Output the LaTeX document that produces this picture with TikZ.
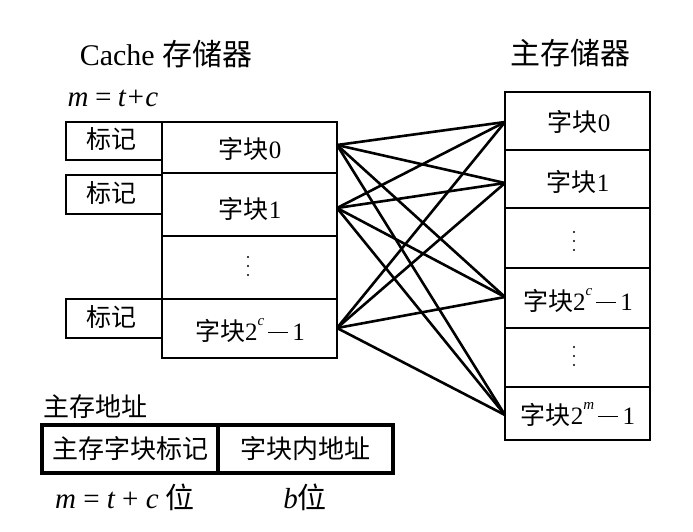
\documentclass[tikz,border=0pt]{standalone}
\usepackage{fontspec}
\setmainfont{Liberation Serif}
\newfontfamily\cjk{Noto Sans CJK SC}
\newcommand{\supit}[1]{\raisebox{0.6em}{\fontsize{15}{15}\selectfont\itshape #1}}
\begin{document}
\begin{tikzpicture}[x=1pt,y=-1pt,
  conn/.style={line width=2.6pt},
  txt/.style={font=\fontsize{25}{28}\selectfont,inner sep=0pt},
  ttl/.style={font=\fontsize{30}{34}\selectfont,inner sep=0pt},
  vdot/.style={fill,circle,inner sep=0pt,minimum size=2.4pt}]
\useasboundingbox (0,0) rectangle (693,531);
% cache block column
\def\cl{162}\def\cr{337}
\foreach \t/\b in {122/173,173/236,236/299,299/358}{
  \draw[line width=2.2pt] (\cl,\t) rectangle (\cr,\b);
}
\node[txt] (tc0) at (250,149) {{\cjk 字块}0};
\node[txt] (tc1) at (250,209) {{\cjk 字块}1};
\foreach \y in {257,266,275}{\node[vdot] at (248,\y) {};}
\node[txt] (tcn) at (250,330) {{\cjk 字块}2\supit{c}{\fontsize{25}{28}\selectfont$\,$\rule[0.3em]{0.8em}{1pt}$\,$}1};
% tag boxes
\foreach \n/\t/\b in {g0/122/160,g1/175/214,gn/299/338}{
  \draw[line width=2.2pt] (66,\t) rectangle (\cl,\b);
  \node[txt] (\n) at (111,{(\t+\b)/2-2}) {\cjk 标记};
}
% main memory column
\def\ml{505}\def\mr{650}
\foreach \t/\b in {92/150,150/208,208/268,268/328,328/387,387/440}{
  \draw[line width=2.2pt] (\ml,\t) rectangle (\mr,\b);
}
\node[txt] (m0) at (579,122) {{\cjk 字块}0};
\node[txt] (m1) at (578,182) {{\cjk 字块}1};
\foreach \y in {232,241,250}{\node[vdot] at (574,\y) {};}
\node[txt] (mc) at (578,300) {{\cjk 字块}2\supit{c}{$\,$\rule[0.3em]{0.8em}{1pt}$\,$}1};
\foreach \y in {347,356,365}{\node[vdot] at (574,\y) {};}
\node[txt] (mm) at (578,414) {{\cjk 字块}2\supit{m}{$\,$\rule[0.3em]{0.8em}{1pt}$\,$}1};
% connection points
\coordinate (a0) at (\cr,145);
\coordinate (a1) at (\cr,208);
\coordinate (an) at (\cr,328);
\coordinate (b0) at (\ml,122);
\coordinate (b1) at (\ml,183);
\coordinate (bc) at (\ml,297);
\coordinate (bm) at (\ml,415);
\foreach \a in {a0,a1,an}{
  \foreach \b in {b0,b1,bc,bm}{
    \draw[conn] (\a) -- (\b);
  }
}
% titles
\node[ttl] (t1) at (166,54) {Cache {\cjk 存储器}};
\node[ttl] (t2) at (570,53) {\cjk 主存储器};
\node[font=\fontsize{29}{32}\selectfont,inner sep=0pt] (eq) at (113,98) {\itshape m\,=\,t+c};
% address
\node[txt,font=\fontsize{26}{30}\selectfont] (addr) at (95,407) {\cjk 主存地址};
\draw[line width=3.4pt] (42,425) rectangle (393,473);
\draw[line width=3.4pt] (218,425) -- (218,473);
\node[txt,font=\fontsize{26}{30}\selectfont] (ad1) at (130,449) {\cjk 主存字块标记};
\node[txt,font=\fontsize{26}{30}\selectfont] (ad2) at (305,449) {\cjk 字块内地址};
\node[font=\fontsize{29}{32}\selectfont,inner sep=0pt] (l1) at (125,497) {\itshape m {\upshape =} t {\upshape +} c \upshape{\cjk 位}};
\node[font=\fontsize{29}{32}\selectfont,inner sep=0pt] (l2) at (305,497) {\itshape b\upshape{\cjk 位}};
\end{tikzpicture}
\end{document}
